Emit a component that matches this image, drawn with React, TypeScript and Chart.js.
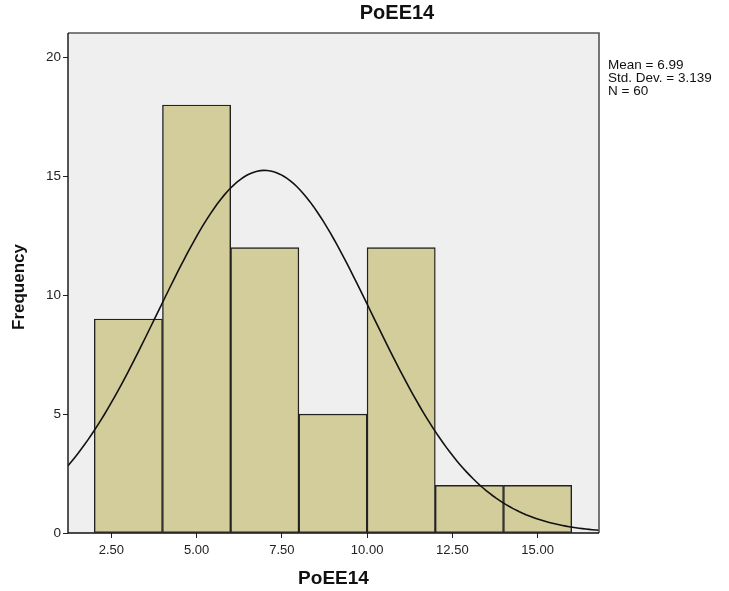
import React, { useEffect, useRef } from "react";
import { Chart, registerables } from "chart.js";

Chart.register(...registerables);

// Histogram data (bin centers, bin width 2)
const BIN_CENTERS = [3, 5, 7, 9, 11, 13, 15];
const FREQUENCIES = [9, 18, 12, 5, 12, 2, 2];
const X_TICKS = [2.5, 5, 7.5, 10, 12.5, 15];
const Y_TICKS = [0, 5, 10, 15, 20];
const STATS_LINES = ["Mean = 6.99", "Std. Dev. = 3.139", "N = 60"];
const MEAN = 6.99;
const SD = 3.139;
const N = 60;
const BIN_WIDTH = 2;
const X_MIN = 1.23;
const X_MAX = 16.8;
const Y_MAX = 21.03;
const TITLE = "PoEE14";
const X_TITLE = "PoEE14";
const Y_TITLE = "Frequency";

// Fitted normal curve, scaled to counts (defined by the mean/SD/N shown)
const CURVE_STEPS = 160;
const curvePoints = Array.from({ length: CURVE_STEPS + 1 }, (_, i) => {
  const x = X_MIN + ((X_MAX - X_MIN) * i) / CURVE_STEPS;
  const z = (x - MEAN) / SD;
  const y = ((N * BIN_WIDTH) / (SD * Math.sqrt(2 * Math.PI))) * Math.exp(-0.5 * z * z);
  return { x, y };
});

const FONT = "'Liberation Sans', Arial, sans-serif";

const decorPlugin = {
  id: "decor",
  beforeDraw(chart: any) {
    const { ctx, chartArea: a } = chart;
    ctx.save();
    ctx.fillStyle = "#ffffff";
    ctx.fillRect(0, 0, chart.width, chart.height);
    ctx.fillStyle = "#efefef";
    ctx.fillRect(a.left, a.top, a.right - a.left, a.bottom - a.top);
    ctx.restore();
  },
  afterDraw(chart: any) {
    const { ctx, chartArea: a } = chart;
    ctx.save();
    // frame
    ctx.strokeStyle = "#555555";
    ctx.lineWidth = 1.6;
    ctx.beginPath();
    ctx.moveTo(a.left, a.top);
    ctx.lineTo(a.right, a.top);
    ctx.lineTo(a.right, a.bottom);
    ctx.stroke();
    ctx.strokeStyle = "#111111";
    ctx.lineWidth = 1.4;
    ctx.beginPath();
    ctx.moveTo(a.left, a.top);
    ctx.lineTo(a.left, a.bottom);
    ctx.lineTo(a.right, a.bottom);
    ctx.stroke();

    ctx.fillStyle = "#111111";
    ctx.textBaseline = "middle";
    // main title
    ctx.textAlign = "center";
    ctx.font = `bold 20px ${FONT}`;
    ctx.fillText(TITLE, 397, 13);
    // x axis title
    ctx.font = `bold 19px ${FONT}`;
    ctx.fillText(X_TITLE, (a.left + a.right) / 2, 579);
    // y axis title
    ctx.save();
    ctx.translate(19, 287);
    ctx.rotate(-Math.PI / 2);
    ctx.font = `bold 17px ${FONT}`;
    ctx.fillText(Y_TITLE, 0, 0);
    ctx.restore();
    // stats
    ctx.textAlign = "left";
    ctx.font = `13.5px ${FONT}`;
    STATS_LINES.forEach((t, i) => ctx.fillText(t, 608, 65 + i * 13));
    ctx.restore();
  },
};

export default function App() {
  const ref = useRef<HTMLCanvasElement | null>(null);

  useEffect(() => {
    if (!ref.current) return;
    const chart = new Chart(ref.current, {
      type: "bar",
      data: {
        datasets: [
          {
            type: "line",
            data: curvePoints,
            borderColor: "#111111",
            borderWidth: 1.6,
            pointRadius: 0,
            tension: 0,
            fill: false,
            order: 0,
          } as any,
          {
            type: "bar",
            data: BIN_CENTERS.map((x, i) => ({ x, y: FREQUENCIES[i] })),
            backgroundColor: "#d3cd9b",
            borderColor: "#222222",
            borderWidth: 1.4,
            borderSkipped: false,
            barPercentage: 1,
            categoryPercentage: 1,
            order: 1,
          } as any,
        ],
      },
      options: {
        animation: false,
        responsive: false,
        devicePixelRatio: 1,
        layout: { padding: { top: 33, right: 130, left: 0, bottom: 0 } },
        plugins: {
          legend: { display: false },
          title: { display: false },
          tooltip: { enabled: false },
        },
        scales: {
          x: {
            type: "linear",
            min: X_MIN,
            max: X_MAX,
            offset: false,
            afterBuildTicks: (s: any) => {
              s.ticks = X_TICKS.map((v) => ({ value: v }));
            },
            afterFit: (s: any) => {
              s.height = 58;
            },
            ticks: {
              callback: (v: any) => Number(v).toFixed(2),
              font: { family: FONT, size: 13 },
              color: "#222222",
              padding: 5,
              maxRotation: 0,
              autoSkip: false,
            },
            grid: { offset: false, drawOnChartArea: false, drawTicks: true, tickLength: 5, color: "#222222" },
            border: { display: false },
          },
          y: {
            type: "linear",
            min: 0,
            max: Y_MAX,
            afterBuildTicks: (s: any) => {
              s.ticks = Y_TICKS.map((v) => ({ value: v }));
            },
            afterFit: (s: any) => {
              s.width = 68;
            },
            ticks: {
              font: { family: FONT, size: 13.5 },
              color: "#222222",
              padding: 2,
              autoSkip: false,
            },
            grid: { drawOnChartArea: false, drawTicks: true, tickLength: 5, color: "#222222" },
            border: { display: false },
          },
        },
      } as any,
      plugins: [decorPlugin],
    });
    return () => chart.destroy();
  }, []);

  return (
    <div style={{ position: "absolute", left: 0, top: 0, width: 729, height: 591 }}>
      <canvas ref={ref} width={729} height={591} style={{ display: "block" }} />
    </div>
  );
}
